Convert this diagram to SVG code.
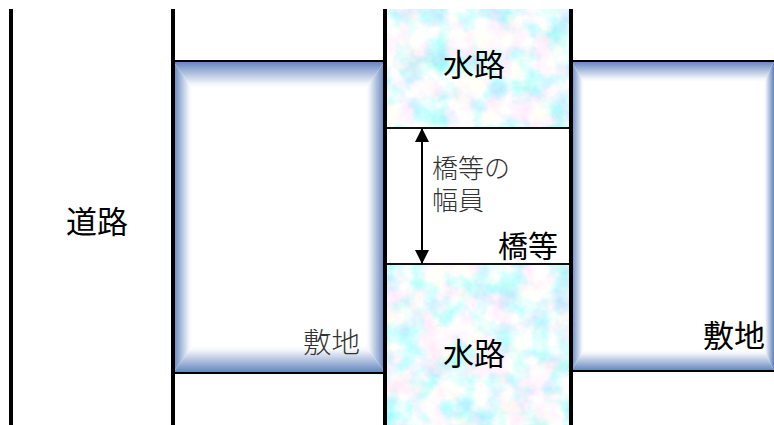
<svg xmlns="http://www.w3.org/2000/svg" width="774" height="425" viewBox="0 0 774 425">
<style>
.v{stroke:#000;stroke-width:4;fill:none}
.h{stroke:#000;stroke-width:2;fill:none}
.b{stroke:#111;stroke-width:2;fill:none}
text{font-family:"Noto Sans CJK JP","Noto Sans CJK SC",sans-serif;fill:#000}
.big{font-size:31px}
.thin{font-size:28.5px;font-weight:300;fill:#333}
.small{font-family:"Liberation Sans","Noto Sans CJK JP",sans-serif;font-size:26px;font-weight:300;fill:#333}
</style>
<defs>
<linearGradient id="gt" x1="0" y1="0" x2="0" y2="1"><stop offset="0" stop-color="#5f82bd"/><stop offset="0.85" stop-color="#f4f6fb"/><stop offset="1" stop-color="#fff"/></linearGradient>
<linearGradient id="gb" x1="0" y1="1" x2="0" y2="0"><stop offset="0" stop-color="#5f82bd"/><stop offset="0.85" stop-color="#f4f6fb"/><stop offset="1" stop-color="#fff"/></linearGradient>
<linearGradient id="gl" x1="0" y1="0" x2="1" y2="0"><stop offset="0" stop-color="#5f82bd"/><stop offset="0.85" stop-color="#f4f6fb"/><stop offset="1" stop-color="#fff"/></linearGradient>
<linearGradient id="gr" x1="1" y1="0" x2="0" y2="0"><stop offset="0" stop-color="#5f82bd"/><stop offset="0.85" stop-color="#f4f6fb"/><stop offset="1" stop-color="#fff"/></linearGradient>
<filter id="tex" x="0" y="0" width="100%" height="100%" color-interpolation-filters="sRGB">
<feTurbulence type="fractalNoise" baseFrequency="0.045" numOctaves="4" seed="7"/>
<feColorMatrix type="matrix" values="0 0 0 0 1  -0.2 0 0 0 1.08  0 0 0 0 1  0 0 0 0 1" result="pink"/>
<feTurbulence type="fractalNoise" baseFrequency="0.04" numOctaves="4" seed="23"/>
<feColorMatrix type="matrix" values="-0.8 0 0 0 1.33  0 0 0 0 1  0 -0.08 0 0 1.03  0 0 0 0 1" result="cyan"/>
<feBlend in="cyan" in2="pink" mode="multiply"/>
</filter>
<marker id="ah" viewBox="0 0 14 14" refX="13" refY="7" markerWidth="14" markerHeight="14" markerUnits="userSpaceOnUse" orient="auto-start-reverse"><path d="M0 0L14 7L0 14Z" fill="#000"/></marker>
</defs>
<g id="site-left">
<path d="M173 61H385L366 88H192Z" fill="url(#gt)"/>
<path d="M173 373H385L366 346H192Z" fill="url(#gb)"/>
<path d="M173 61L192 88V346L173 373Z" fill="url(#gl)"/>
<path d="M385 61L366 88V346L385 373Z" fill="url(#gr)"/>
<path d="M173 61H385M173 373H385" class="h"/>
<text class="thin" x="303" y="353">敷地</text>
</g>
<g id="site-right">
<path d="M571 61H774L764 82H584Z" fill="url(#gt)"/>
<path d="M571 371H774L764 350H584Z" fill="url(#gb)"/>
<path d="M571 61L584 82V350L571 371Z" fill="url(#gl)"/>
<path d="M774 61L764 82V350L774 371Z" fill="url(#gr)"/>
<path d="M571 61H774M571 371H774" class="h"/>
<text class="big" x="703" y="347">敷地</text>
</g>
<g id="water-top">
<rect x="385" y="9" width="186" height="119" filter="url(#tex)"/>
<text class="big" x="443" y="76">水路</text>
</g>
<g id="water-bottom">
<rect x="385" y="264" width="186" height="161" filter="url(#tex)"/>
<text class="big" x="443" y="365">水路</text>
</g>
<g id="bridge">
<rect x="385" y="128" width="186" height="136" fill="#fff"/>
<path d="M385 128H571M385 264H571" class="b"/>
<text class="small"><tspan x="432" y="178">橋等の</tspan><tspan x="432" y="210">幅員</tspan></text>
<text class="big" style="font-size:30px" x="498" y="257">橋等</text>
</g>
<g id="road">
<text class="big" x="66" y="233">道路</text>
</g>
<g id="connectors">
<path d="M11 9V425M173 9V425M385 9V425M571 9V425" class="v"/>
<path d="M422 129V263" stroke="#000" stroke-width="2" fill="none" marker-start="url(#ah)" marker-end="url(#ah)"/>
</g>
</svg>
